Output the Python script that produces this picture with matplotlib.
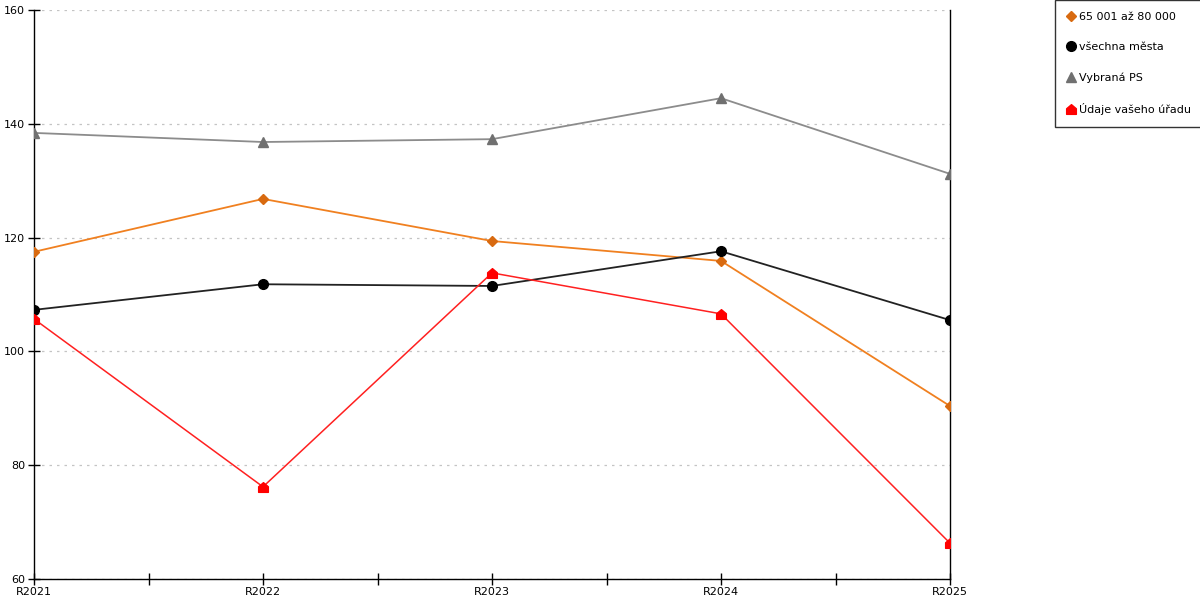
import numpy as np
import matplotlib
matplotlib.use('Agg')
import matplotlib.pyplot as plt
from matplotlib.path import Path
from matplotlib.lines import Line2D

years = ['R2021', 'R2022', 'R2023', 'R2024', 'R2025']
orange_vals = [117.5, 126.8, 119.4, 115.9, 90.4]
black_vals = [107.3, 111.8, 111.5, 117.6, 105.5]
grey_vals = [138.4, 136.8, 137.3, 144.5, 131.2]
red_vals = [105.7, 76.2, 113.8, 106.6, 66.3]
labels = ['65 001 až 80 000', 'všechna města', 'Vybraná PS', 'Údaje vašeho úřadu']

# house shaped marker for the red series
house = Path([(-1, -1), (1, -1), (1, 0.15), (0, 1), (-1, 0.15), (-1, -1)],
             [Path.MOVETO, Path.LINETO, Path.LINETO, Path.LINETO, Path.LINETO, Path.CLOSEPOLY])

plt.rcParams['font.family'] = 'DejaVu Sans'
fig = plt.figure(figsize=(12, 6), dpi=100)
ax = fig.add_axes([34 / 1200, 21 / 600, 916 / 1200, 569 / 600])

x = np.arange(len(years))
ax.plot(x, grey_vals, color='#8c8c8c', lw=1.3, marker='^', ms=7, mfc='#707070', mec='#707070', zorder=3)
ax.plot(x, orange_vals, color='#f08020', lw=1.3, marker='D', ms=5, mfc='#d86a10', mec='#d86a10', zorder=3)
ax.plot(x, black_vals, color='#222222', lw=1.3, marker='o', ms=7, mfc='black', mec='black', zorder=3)
ax.plot(x, red_vals, color='#ff2020', lw=1.1, marker=house, ms=7, mfc='red', mec='red', zorder=4)

ax.set_xlim(0, 4)
ax.set_ylim(60, 160)
ax.set_xticks(x)
ax.set_xticklabels(years)
ax.set_xticks(np.arange(0.5, 4, 1), minor=True)
ax.set_yticks(np.arange(60, 161, 20))
ax.tick_params(axis='both', direction='inout', length=9, width=1, labelsize=8, pad=2)
ax.tick_params(axis='x', which='minor', direction='inout', length=9, width=1)
ax.tick_params(axis='x', pad=1)

ax.grid(axis='y', color='#c4c4c4', linestyle=(0, (2, 4)), lw=0.9)
ax.spines['top'].set_visible(False)
ax.spines['right'].set_visible(True)
for s in ['left', 'bottom', 'right']:
    ax.spines[s].set_color('black')
    ax.spines[s].set_linewidth(1)

handles = [
    Line2D([], [], ls='', marker='D', ms=5, mfc='#d86a10', mec='#d86a10'),
    Line2D([], [], ls='', marker='o', ms=7, mfc='black', mec='black'),
    Line2D([], [], ls='', marker='^', ms=7, mfc='#707070', mec='#707070'),
    Line2D([], [], ls='', marker=house, ms=7, mfc='red', mec='red'),
]
leg = fig.legend(handles, labels, loc='upper left', bbox_to_anchor=(1055 / 1200, 1.0),
                 frameon=True, fancybox=False, edgecolor='black', fontsize=8,
                 handlelength=0.6, handletextpad=0.45, labelspacing=1.8,
                 borderpad=1.1, borderaxespad=0)
leg.get_frame().set_linewidth(1)

fig.savefig('out.png', dpi=100)
